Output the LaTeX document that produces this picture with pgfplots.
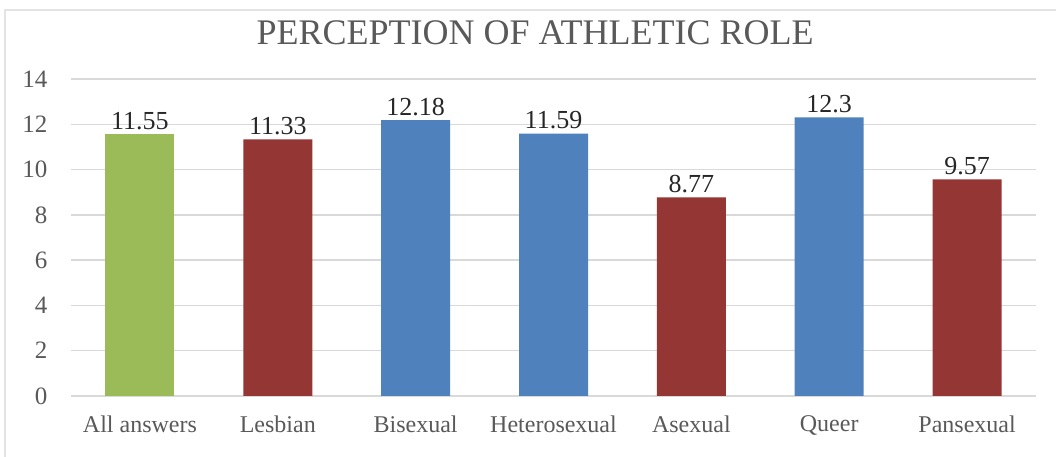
\documentclass[border=0pt]{standalone}
\usepackage{pgfplots}
\pgfplotsset{compat=1.18}
\usepackage{fontspec}
\setmainfont{Liberation Serif}
\definecolor{cgreen}{HTML}{9BBB59}
\definecolor{cred}{HTML}{943634}
\definecolor{cblue}{HTML}{4F81BD}
\definecolor{cgrid}{HTML}{D9D9D9}
\definecolor{ctext}{HTML}{595959}
\definecolor{cborder}{HTML}{E3E3E3}
\begin{document}
\begin{tikzpicture}[x=1pt,y=1pt]
\useasboundingbox (0,0) rectangle (1056,457);
\draw[cborder, line width=1.5pt] (5,0) -- (5,447) -- (1056,447);
\node[anchor=base, text=ctext, font=\fontsize{36}{36}\selectfont, inner sep=0] at (535,412) {PERCEPTION OF ATHLETIC ROLE};
\begin{axis}[
  at={(71pt,61pt)}, anchor=south west,
  scale only axis, width=965pt, height=317pt,
  xmin=-0.5, xmax=6.5, ymin=0, ymax=14,
  ytick={0,2,...,14},
  xtick={0,...,6},
  xticklabels={All answers,Lesbian,Bisexual,Heterosexual,Asexual,Queer,Pansexual},
  axis x line*=bottom, axis y line*=left,
  axis line style={cgrid, line width=1.5pt},
  y axis line style={draw=none},
  ymajorgrids, grid style={cgrid, line width=1.5pt},
  major tick length=0pt,
  /pgf/number format/assume math mode=true,
  yticklabel style={text=ctext, font=\fontsize{25}{25}\selectfont, xshift=-20pt},
  xticklabel style={text=ctext, font=\fontsize{24}{24}\selectfont, yshift=-16pt},
  ybar, bar width=69pt, bar shift=0pt,
  nodes near coords, point meta=explicit symbolic,
  nodes near coords style={anchor=base, inner sep=0, yshift=5pt, text=black!85, font=\fontsize{26}{26}\selectfont},
  clip=false,
]
\addplot[fill=cgreen, draw=none] coordinates {(0,11.55) [11.55]};
\addplot[fill=cred, draw=none] coordinates {(1,11.33) [11.33] (4,8.77) [8.77] (6,9.57) [9.57]};
\addplot[fill=cblue, draw=none] coordinates {(2,12.18) [12.18] (3,11.59) [11.59] (5,12.3) [12.3]};
\end{axis}
\end{tikzpicture}
\end{document}
